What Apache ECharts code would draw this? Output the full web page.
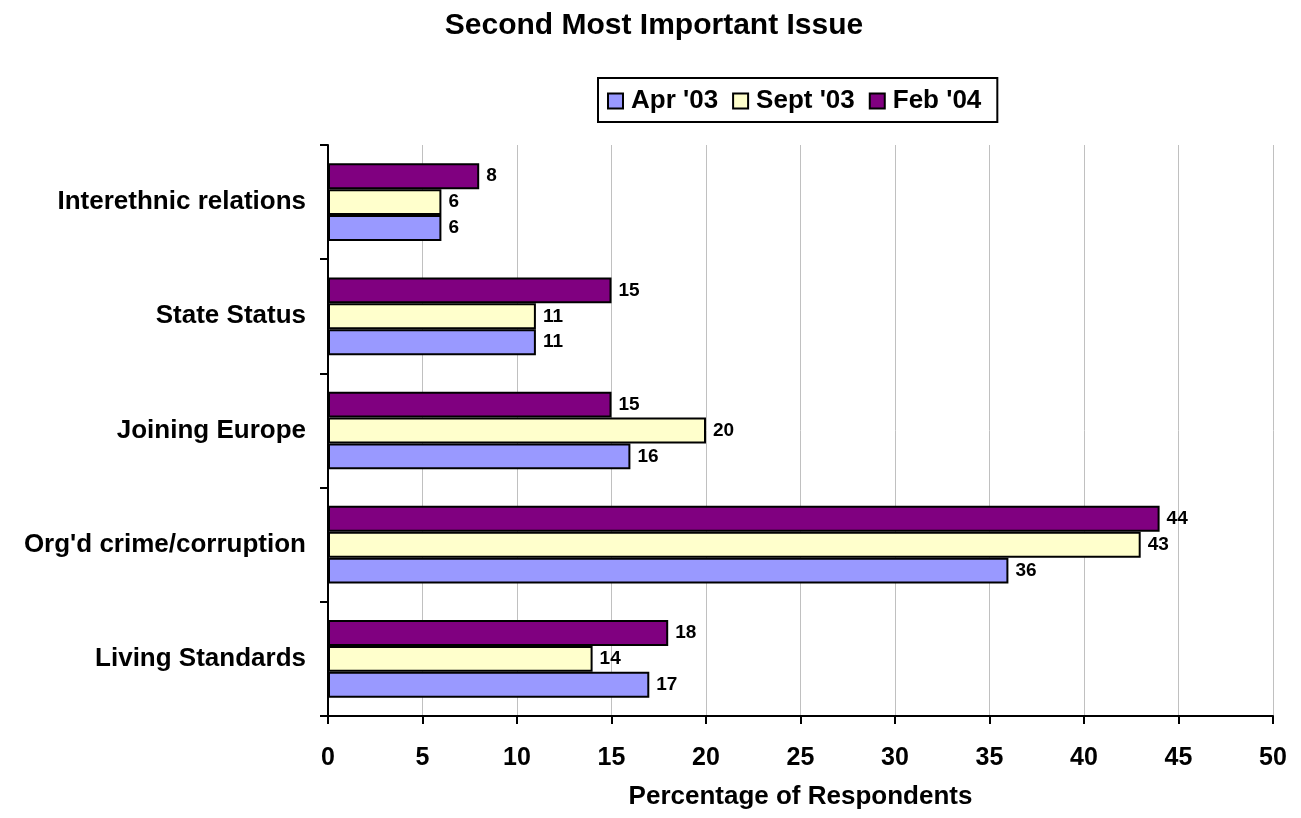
<!DOCTYPE html>
<html>
<head>
<meta charset="utf-8">
<script src="https://cdn.jsdelivr.net/npm/echarts@6/dist/echarts.min.js"></script>
<style>
  html, body { margin: 0; padding: 0; background: #fff; }
  #chart { width: 1301px; height: 818px; }
</style>
</head>
<body>
<div id="chart"></div>
<script>
// bottom to top, as on the chart
const categories = ['Living Standards', "Org'd crime/corruption", 'Joining Europe', 'State Status', 'Interethnic relations'];
const apr03 = [17, 36, 16, 11, 6];
const sept03 = [14, 43, 20, 11, 6];
const feb04 = [18, 44, 15, 15, 8];
const seriesNames = ['Apr \'03', 'Sept \'03', 'Feb \'04'];
const xTicks = [0, 5, 10, 15, 20, 25, 30, 35, 40, 45, 50];

const font = 'Arial, "Liberation Sans", sans-serif';
const chart = echarts.init(document.getElementById('chart'));

function barSeries(name, data, color) {
  return {
    type: 'bar', name, data,
    barGap: '0%', barCategoryGap: '32%',
    itemStyle: { color, borderColor: '#000', borderWidth: 2 },
    label: { show: true, position: 'right', distance: 7, color: '#000', fontFamily: font, fontWeight: 'bold', fontSize: 19 }
  };
}

chart.setOption({
  animation: false,
  backgroundColor: '#fff',
  title: {
    text: 'Second Most Important Issue', left: 649, top: 6, textAlign: 'center',
    textStyle: { fontFamily: font, fontWeight: 'bold', fontSize: 30, color: '#000' }
  },
  legend: {
    data: seriesNames,
    left: 598, top: 78,
    borderColor: '#000', borderWidth: 2, padding: [10, 16, 8, 9],
    itemWidth: 15, itemHeight: 15, itemGap: 14, icon: 'rect',
    textStyle: { fontFamily: font, fontWeight: 'bold', fontSize: 26, color: '#000', padding: [0, 0, 0, 3] }
  },
  grid: { left: 328, right: 28, top: 145, bottom: 102, containLabel: false },
  xAxis: {
    type: 'value', min: xTicks[0], max: xTicks[xTicks.length - 1], interval: 5,
    name: 'Percentage of Respondents', nameLocation: 'middle', nameGap: 68,
    nameTextStyle: { fontFamily: font, fontWeight: 'bold', fontSize: 26, color: '#000' },
    axisLine: { show: true, lineStyle: { color: '#000', width: 2 } },
    axisTick: { show: true, length: 8, lineStyle: { color: '#000', width: 2 } },
    axisLabel: { margin: 30, fontFamily: font, fontWeight: 'bold', fontSize: 25, color: '#000' },
    splitLine: { show: true, lineStyle: { color: '#c0c0c0', width: 1 } }
  },
  yAxis: {
    type: 'category', data: categories,
    axisLine: { show: true, lineStyle: { color: '#000', width: 2 } },
    axisTick: { show: true, length: 8, lineStyle: { color: '#000', width: 2 } },
    axisLabel: { margin: 22, fontFamily: font, fontWeight: 'bold', fontSize: 26, color: '#000' }
  },
  // top-down inside each group: Feb, Sept, Apr
  series: [
    barSeries(seriesNames[2], feb04, '#800080'),
    barSeries(seriesNames[1], sept03, '#ffffcc'),
    barSeries(seriesNames[0], apr03, '#9999ff')
  ]
});
</script>
</body>
</html>
